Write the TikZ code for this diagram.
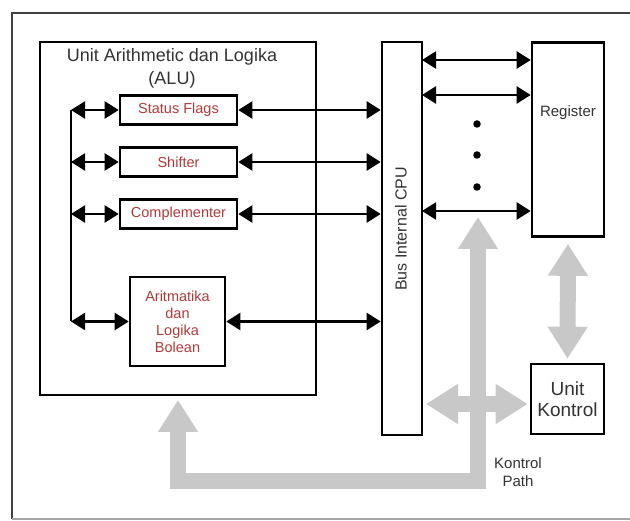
\documentclass[tikz,border=0pt]{standalone}
\usepackage{fontspec}
\setmainfont{Liberation Sans}
\usetikzlibrary{arrows.meta}
\definecolor{redtxt}{HTML}{B03A3A}
\definecolor{fatgrey}{HTML}{C8C8C8}
\definecolor{txtgrey}{HTML}{333333}
\begin{document}
\begin{tikzpicture}[x=1pt,y=-1pt,
  box/.style={draw=black, line width=2.6pt, fill=white, inner sep=0pt},
  comp/.style={box, minimum width=117pt, minimum height=29pt, text=redtxt, font=\fontsize{14.5}{17}\selectfont, align=center},
  dbl/.style={line width=2.3pt, {Triangle[length=14pt,width=17pt]}-{Triangle[length=14pt,width=17pt]}},
  fat/.style={draw=fatgrey, line width=16pt, line join=miter, {Triangle[length=32pt,width=38pt]}-{Triangle[length=32pt,width=38pt]}},
  dot/.style={circle, fill=black, inner sep=0pt, minimum size=7.5pt},
  lbl/.style={text=txtgrey, align=center, inner sep=0pt}]
\useasboundingbox (0,0) rectangle (630,521);
% outer frame
\draw[line width=2pt, black!75] (631,13) -- (12,13) -- (12,519);
\draw[line width=2pt, black!35] (12,519) -- (631,519);

% grey control paths
\coordinate (cptop) at (478,217);
\coordinate (cpc1) at (478,481);
\coordinate (cpc2) at (178,481);
\coordinate (aluin) at (178,400);
\draw[fat] (cptop) -- (cpc1) -- (cpc2) -- (aluin);

% ALU
\node[box, line width=2.3pt, fill=none, minimum width=276pt, minimum height=353pt] (alu) at (178,218.5) {};
\node[lbl, font=\fontsize{18}{23}\selectfont] (alutitle) at (172,68) {Unit Arithmetic dan Logika\\(ALU)};
\node[comp] (sf) at (178.5,110) {Status Flags};
\node[comp] (sh) at (178.5,162) {Shifter};
\node[comp] (cp) at (178.5,214) {Complementer};
\node[comp, minimum width=95pt, minimum height=89pt] (ar) at (177.5,321.5) {Aritmatika\\dan\\Logika\\Bolean};

% bus, register, control unit
\node[box, minimum width=40pt, minimum height=393pt] (bus) at (402,238.5) {};
\node[lbl, rotate=90, font=\fontsize{16}{18}\selectfont] (bustext) at (401,229) {Bus Internal CPU};
\node[box, minimum width=72pt, minimum height=194pt] (reg) at (568,139.5) {};
\node[lbl, font=\fontsize{15}{18}\selectfont] (regtext) at (568,113) {Register};
\node[box, minimum width=73pt, minimum height=70pt, align=center, text=txtgrey, font=\fontsize{19}{21}\selectfont] (uk) at (567.5,399) {Unit\\Kontrol};
\node[lbl, font=\fontsize{15}{18}\selectfont] (kp) at (518,472) {Kontrol\\Path};

% grey double arrows
\draw[fat] ([yshift=-6pt]reg.south) -- ([yshift=4pt]uk.north);
\coordinate (h1) at (426,404);
\draw[fat] (h1) -- ([xshift=-2pt]h1 -| uk.west);

% left distribution line
\coordinate (l1) at (71,110);
\coordinate (l2) at (71,162);
\coordinate (l3) at (71,214);
\coordinate (l4) at (71,321.5);
\draw[line width=2.3pt] (l1) -- (l4);
\draw[dbl] (l1) -- (sf.west);
\draw[dbl] (l2) -- (sh.west);
\draw[dbl] (l3) -- (cp.west);
\draw[dbl] (l4) -- (ar.west);

% to bus
\draw[dbl] (sf.east) -- (sf.east -| bus.west);
\draw[dbl] (sh.east) -- (sh.east -| bus.west);
\draw[dbl] (cp.east) -- (cp.east -| bus.west);
\draw[dbl] (ar.east) -- (ar.east -| bus.west);

% bus to register
\coordinate (r1) at (422,60);
\coordinate (r2) at (422,95);
\coordinate (r3) at (422,211);
\draw[dbl] (r1) -- (r1 -| reg.west);
\draw[dbl] (r2) -- (r2 -| reg.west);
\draw[dbl] (r3) -- (r3 -| reg.west);
\node[dot] (d1) at (477,124) {};
\node[dot] (d2) at (477,155) {};
\node[dot] (d3) at (477,187) {};
\end{tikzpicture}
\end{document}
